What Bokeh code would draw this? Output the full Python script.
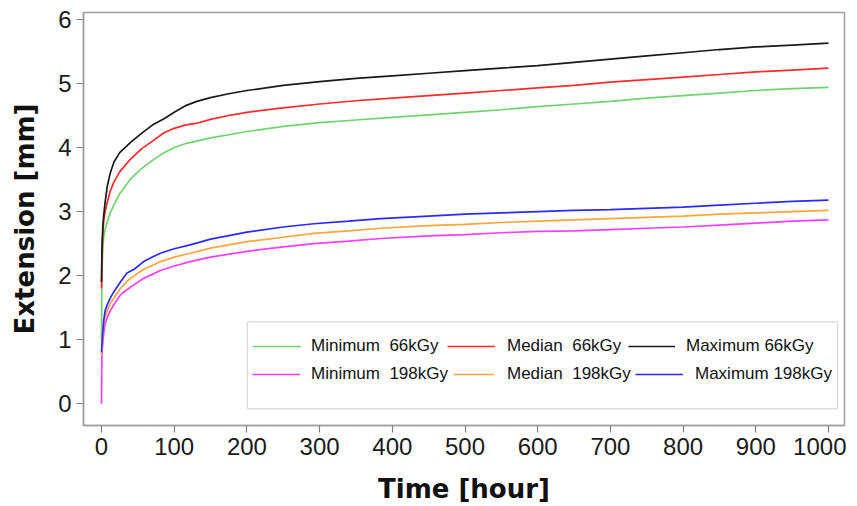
from bokeh.plotting import figure
from bokeh.models import Legend, LegendItem, BoxAnnotation, FixedTicker, Range1d
from bokeh.embed import file_html
from bokeh.resources import INLINE

# ---- data ----
t66 = [0, 0.5, 1, 2, 3, 5, 8, 12, 17, 25, 40, 55, 70, 86, 100, 115, 131, 150, 175, 200,
       250, 300, 350, 400, 450, 500, 550, 600, 650, 700, 750, 800, 850, 900, 950, 1000]
min66 = [1.0, 1.9, 2.2, 2.45, 2.6, 2.72, 2.85, 2.98, 3.10, 3.28, 3.51, 3.67, 3.80, 3.92, 4.00, 4.06, 4.10, 4.15, 4.20, 4.25,
         4.33, 4.39, 4.43, 4.47, 4.51, 4.55, 4.59, 4.64, 4.68, 4.72, 4.77, 4.81, 4.85, 4.89, 4.92, 4.94]
med66 = [1.8, 2.2, 2.45, 2.7, 2.85, 3.0, 3.15, 3.32, 3.46, 3.62, 3.82, 3.98, 4.10, 4.23, 4.30, 4.35, 4.38, 4.44, 4.50, 4.55,
         4.62, 4.68, 4.73, 4.77, 4.81, 4.85, 4.89, 4.93, 4.97, 5.02, 5.06, 5.10, 5.14, 5.18, 5.21, 5.24]
max66 = [1.9, 2.3, 2.55, 2.8, 2.94, 3.15, 3.40, 3.60, 3.77, 3.92, 4.08, 4.22, 4.35, 4.45, 4.55, 4.65, 4.72, 4.78, 4.84, 4.89,
         4.97, 5.03, 5.08, 5.12, 5.16, 5.20, 5.24, 5.28, 5.33, 5.38, 5.43, 5.48, 5.53, 5.57, 5.60, 5.63]

t198 = [0, 0.5, 1, 3, 5, 8, 12, 17, 26, 35, 45, 58, 70, 81, 100, 122, 150, 200, 250, 292, 340, 384,
        450, 500, 550, 600, 650, 700, 750, 800, 850, 900, 950, 1000]
min198 = [0.0, 0.7, 0.85, 1.1, 1.25, 1.35, 1.45, 1.55, 1.70, 1.78, 1.86, 1.96, 2.02, 2.08, 2.15, 2.22, 2.29, 2.38, 2.45, 2.50, 2.54, 2.58,
          2.62, 2.64, 2.67, 2.69, 2.70, 2.72, 2.74, 2.76, 2.79, 2.82, 2.85, 2.87]
med198 = [0.75, 0.85, 0.95, 1.25, 1.36, 1.45, 1.57, 1.65, 1.80, 1.91, 2.00, 2.10, 2.16, 2.22, 2.29, 2.35, 2.43, 2.53, 2.60, 2.66, 2.70, 2.74,
          2.78, 2.80, 2.83, 2.85, 2.87, 2.89, 2.91, 2.93, 2.96, 2.98, 3.00, 3.02]
max198 = [0.8, 0.9, 1.0, 1.3, 1.45, 1.55, 1.65, 1.75, 1.90, 2.04, 2.10, 2.22, 2.29, 2.35, 2.42, 2.48, 2.57, 2.68, 2.76, 2.81, 2.85, 2.89,
          2.93, 2.96, 2.98, 3.00, 3.02, 3.03, 3.05, 3.07, 3.10, 3.13, 3.16, 3.18]

x_ticks = [0, 100, 200, 300, 400, 500, 600, 700, 800, 900, 1000]
y_ticks = [0, 1, 2, 3, 4, 5, 6]

labels = ["Minimum  66kGy", "Median  66kGy", "Maximum 66kGy",
          "Minimum  198kGy", "Median  198kGy", "Maximum 198kGy"]
colors = ["#6fd36f", "#ff2a2a", "#1a1a1a", "#ff3cff", "#ffa53a", "#2a2aff"]

TICK_FONT = "Liberation Sans"
TITLE_FONT = "DejaVu Sans"
LEG_FONT = "Liberation Sans"

p = figure(width=846, height=506, output_backend="svg", toolbar_location=None,
           x_range=Range1d(-24.76, 1022), y_range=Range1d(-0.339, 6.108),
           min_border_left=83, min_border_right=2, min_border_top=12, min_border_bottom=76)
p.grid.visible = False
p.outline_line_color = "#a0a0a0"
p.outline_line_width = 1.5

for ax in (p.xaxis[0], p.yaxis[0]):
    ax.axis_line_color = "#a0a0a0"
    ax.axis_line_width = 1.5
    ax.major_tick_line_color = "#808080"
    ax.major_tick_line_width = 1.2
    ax.major_tick_out = 7
    ax.major_tick_in = 0
    ax.minor_tick_line_color = None
    ax.major_label_text_font = TICK_FONT
    ax.major_label_text_font_size = "24px"
    ax.major_label_text_color = "#1a1a1a"
    ax.axis_label_text_font = TITLE_FONT
    ax.axis_label_text_font_size = "26px"
    ax.axis_label_text_font_style = "bold"
    ax.axis_label_text_color = "#111111"

p.xaxis.ticker = FixedTicker(ticks=x_ticks)
p.yaxis.ticker = FixedTicker(ticks=y_ticks)
p.xaxis.axis_label = "Time [hour]"
p.yaxis.axis_label = "Extension [mm]"
p.xaxis.major_label_standoff = 5
p.yaxis.major_label_standoff = 5
p.xaxis.axis_label_standoff = 16
p.yaxis.axis_label_standoff = 15

series = [(t66, min66), (t66, med66), (t66, max66),
          (t198, min198), (t198, med198), (t198, max198)]
renderers = []
for (tx, vy), c in zip(series, colors):
    r = p.line(tx, vy, line_color=c, line_width=1.7)
    renderers.append(r)

box = BoxAnnotation(left=200.8, right=1012.4, bottom=-0.077, top=1.28,
                    fill_color="white", fill_alpha=1.0,
                    line_color="#808080", line_width=1.2)
p.add_layout(box)

# one legend per entry, so each entry sits where the reference has it
leg_pos = [(169, 69), (364, 69), (545, 69), (169, 41), (370, 41), (552, 41)]
leg_glyph_w = [49, 48, 47, 48, 41, 48]
leg_standoff = [10, 12, 11, 11, 13, 12]
for i in range(6):
    lg = Legend(items=[LegendItem(label=labels[i], renderers=[renderers[i]])],
                location=leg_pos[i], margin=0, padding=0,
                border_line_color=None, background_fill_alpha=0,
                label_text_font=LEG_FONT, label_text_font_size="17px",
                label_text_color="#111111",
                glyph_width=leg_glyph_w[i], glyph_height=20, label_height=20,
                label_standoff=leg_standoff[i])
    p.add_layout(lg)

open("out.html", "w").write(file_html(p, INLINE))
